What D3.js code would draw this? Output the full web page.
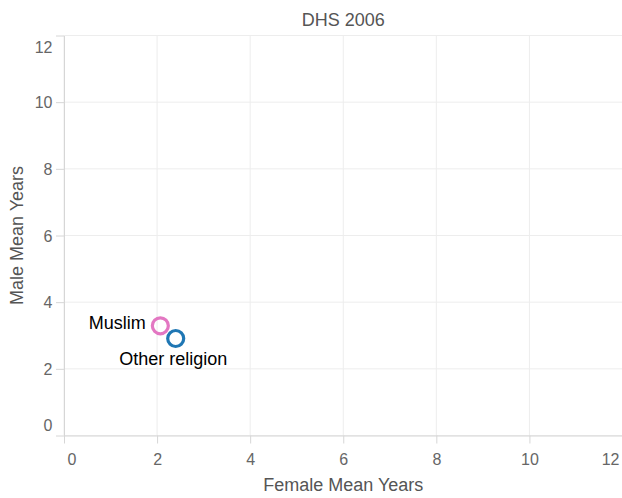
<!DOCTYPE html>
<html>
<head>
<meta charset="utf-8">
<script src="https://cdn.jsdelivr.net/npm/d3@7"></script>
<style>
  html, body { margin: 0; padding: 0; background: #fff; }
  svg { display: block; font-family: "Liberation Sans", Arial, Helvetica, sans-serif; }
</style>
</head>
<body>
<svg id="chart" width="622" height="498"></svg>
<script>
// ---- data ----
const groups = ["Muslim", "Other religion"];
const femaleMeanYears = [2.07, 2.40];
const maleMeanYears = [3.29, 2.91];
const groupColors = ["#e377c2", "#1f77b4"];
const xTicks = [0, 2, 4, 6, 8, 10, 12];
const yTicks = [0, 2, 4, 6, 8, 10, 12];
const chartTitle = "DHS 2006";
const xTitle = "Female Mean Years";
const yTitle = "Male Mean Years";

// ---- layout ----
const svg = d3.select("#chart");
const plotL = 64, plotR = 622.5, plotT = 35.5, plotB = 435.5;
const x = d3.scaleLinear().domain([0, 12]).range([plotL, plotR]);
const y = d3.scaleLinear().domain([0, 12]).range([plotB, plotT]);
const gridColor = "#ededed", domainColor = "#d6d6d6", tickLabelColor = "#666", titleColor = "#555";

// grid
svg.append("g").selectAll("line").data(xTicks).join("line")
  .attr("x1", d => x(d)).attr("x2", d => x(d)).attr("y1", plotT).attr("y2", plotB)
  .attr("stroke", gridColor).attr("stroke-width", 1);
svg.append("g").selectAll("line").data(yTicks).join("line")
  .attr("x1", plotL).attr("x2", plotR).attr("y1", d => y(d)).attr("y2", d => y(d))
  .attr("stroke", gridColor).attr("stroke-width", 1);

// x axis
const xAxis = svg.append("g").attr("transform", `translate(0,${plotB})`)
  .call(d3.axisBottom(x).tickValues(xTicks).tickSize(8).tickPadding(3).tickSizeOuter(0));
xAxis.select(".domain").attr("stroke", domainColor);
xAxis.selectAll(".tick line").attr("stroke", domainColor);
xAxis.selectAll(".tick text")
  .attr("fill", tickLabelColor).attr("font-size", 16)
  .attr("font-family", "Liberation Sans, Arial, sans-serif")
  .attr("dy", null).attr("y", 29.5)
  .attr("text-anchor", (d, i) => i === 0 ? "start" : (i === xTicks.length - 1 ? "end" : "middle"))
  .attr("dx", (d, i) => i === 0 ? 3 : (i === xTicks.length - 1 ? -3.5 : 0));

// y axis
const yAxis = svg.append("g").attr("transform", `translate(${plotL},0)`)
  .call(d3.axisLeft(y).tickValues(yTicks).tickSize(8).tickPadding(3.5).tickSizeOuter(0));
yAxis.select(".domain").attr("stroke", domainColor);
yAxis.selectAll(".tick line").attr("stroke", domainColor);
yAxis.selectAll(".tick text")
  .attr("fill", tickLabelColor).attr("font-size", 16)
  .attr("font-family", "Liberation Sans, Arial, sans-serif")
  .attr("dy", (d, i) => i === 0 ? "-0.3em" : (i === yTicks.length - 1 ? "1.06em" : "0.36em"));

// titles
svg.append("text").attr("x", (plotL + plotR) / 2).attr("y", 26)
  .attr("text-anchor", "middle").attr("font-size", 18).attr("fill", titleColor).text(chartTitle);
svg.append("text").attr("x", (plotL + plotR) / 2).attr("y", 491)
  .attr("text-anchor", "middle").attr("font-size", 18).attr("fill", titleColor).text(xTitle);
svg.append("text").attr("transform", `translate(23,${(plotT + plotB) / 2}) rotate(-90)`)
  .attr("text-anchor", "middle").attr("font-size", 18).attr("fill", titleColor).text(yTitle);

// points
const data = groups.map((g, i) => ({ g, fx: femaleMeanYears[i], my: maleMeanYears[i], c: groupColors[i] }));
svg.append("g").selectAll("circle").data(data).join("circle")
  .attr("cx", d => x(d.fx)).attr("cy", d => y(d.my)).attr("r", 8)
  .attr("fill", "none").attr("stroke", d => d.c).attr("stroke-width", 3.2);

// labels
const labelPos = [
  { dx: -14.5, dy: 3.5, anchor: "end" },
  { dx: -2.5, dy: 26.5, anchor: "middle" }
];
svg.append("g").selectAll("text").data(data).join("text")
  .attr("x", (d, i) => x(d.fx) + labelPos[i].dx)
  .attr("y", (d, i) => y(d.my) + labelPos[i].dy)
  .attr("text-anchor", (d, i) => labelPos[i].anchor)
  .attr("font-size", 18).attr("fill", "#000")
  .text(d => d.g);
</script>
</body>
</html>
